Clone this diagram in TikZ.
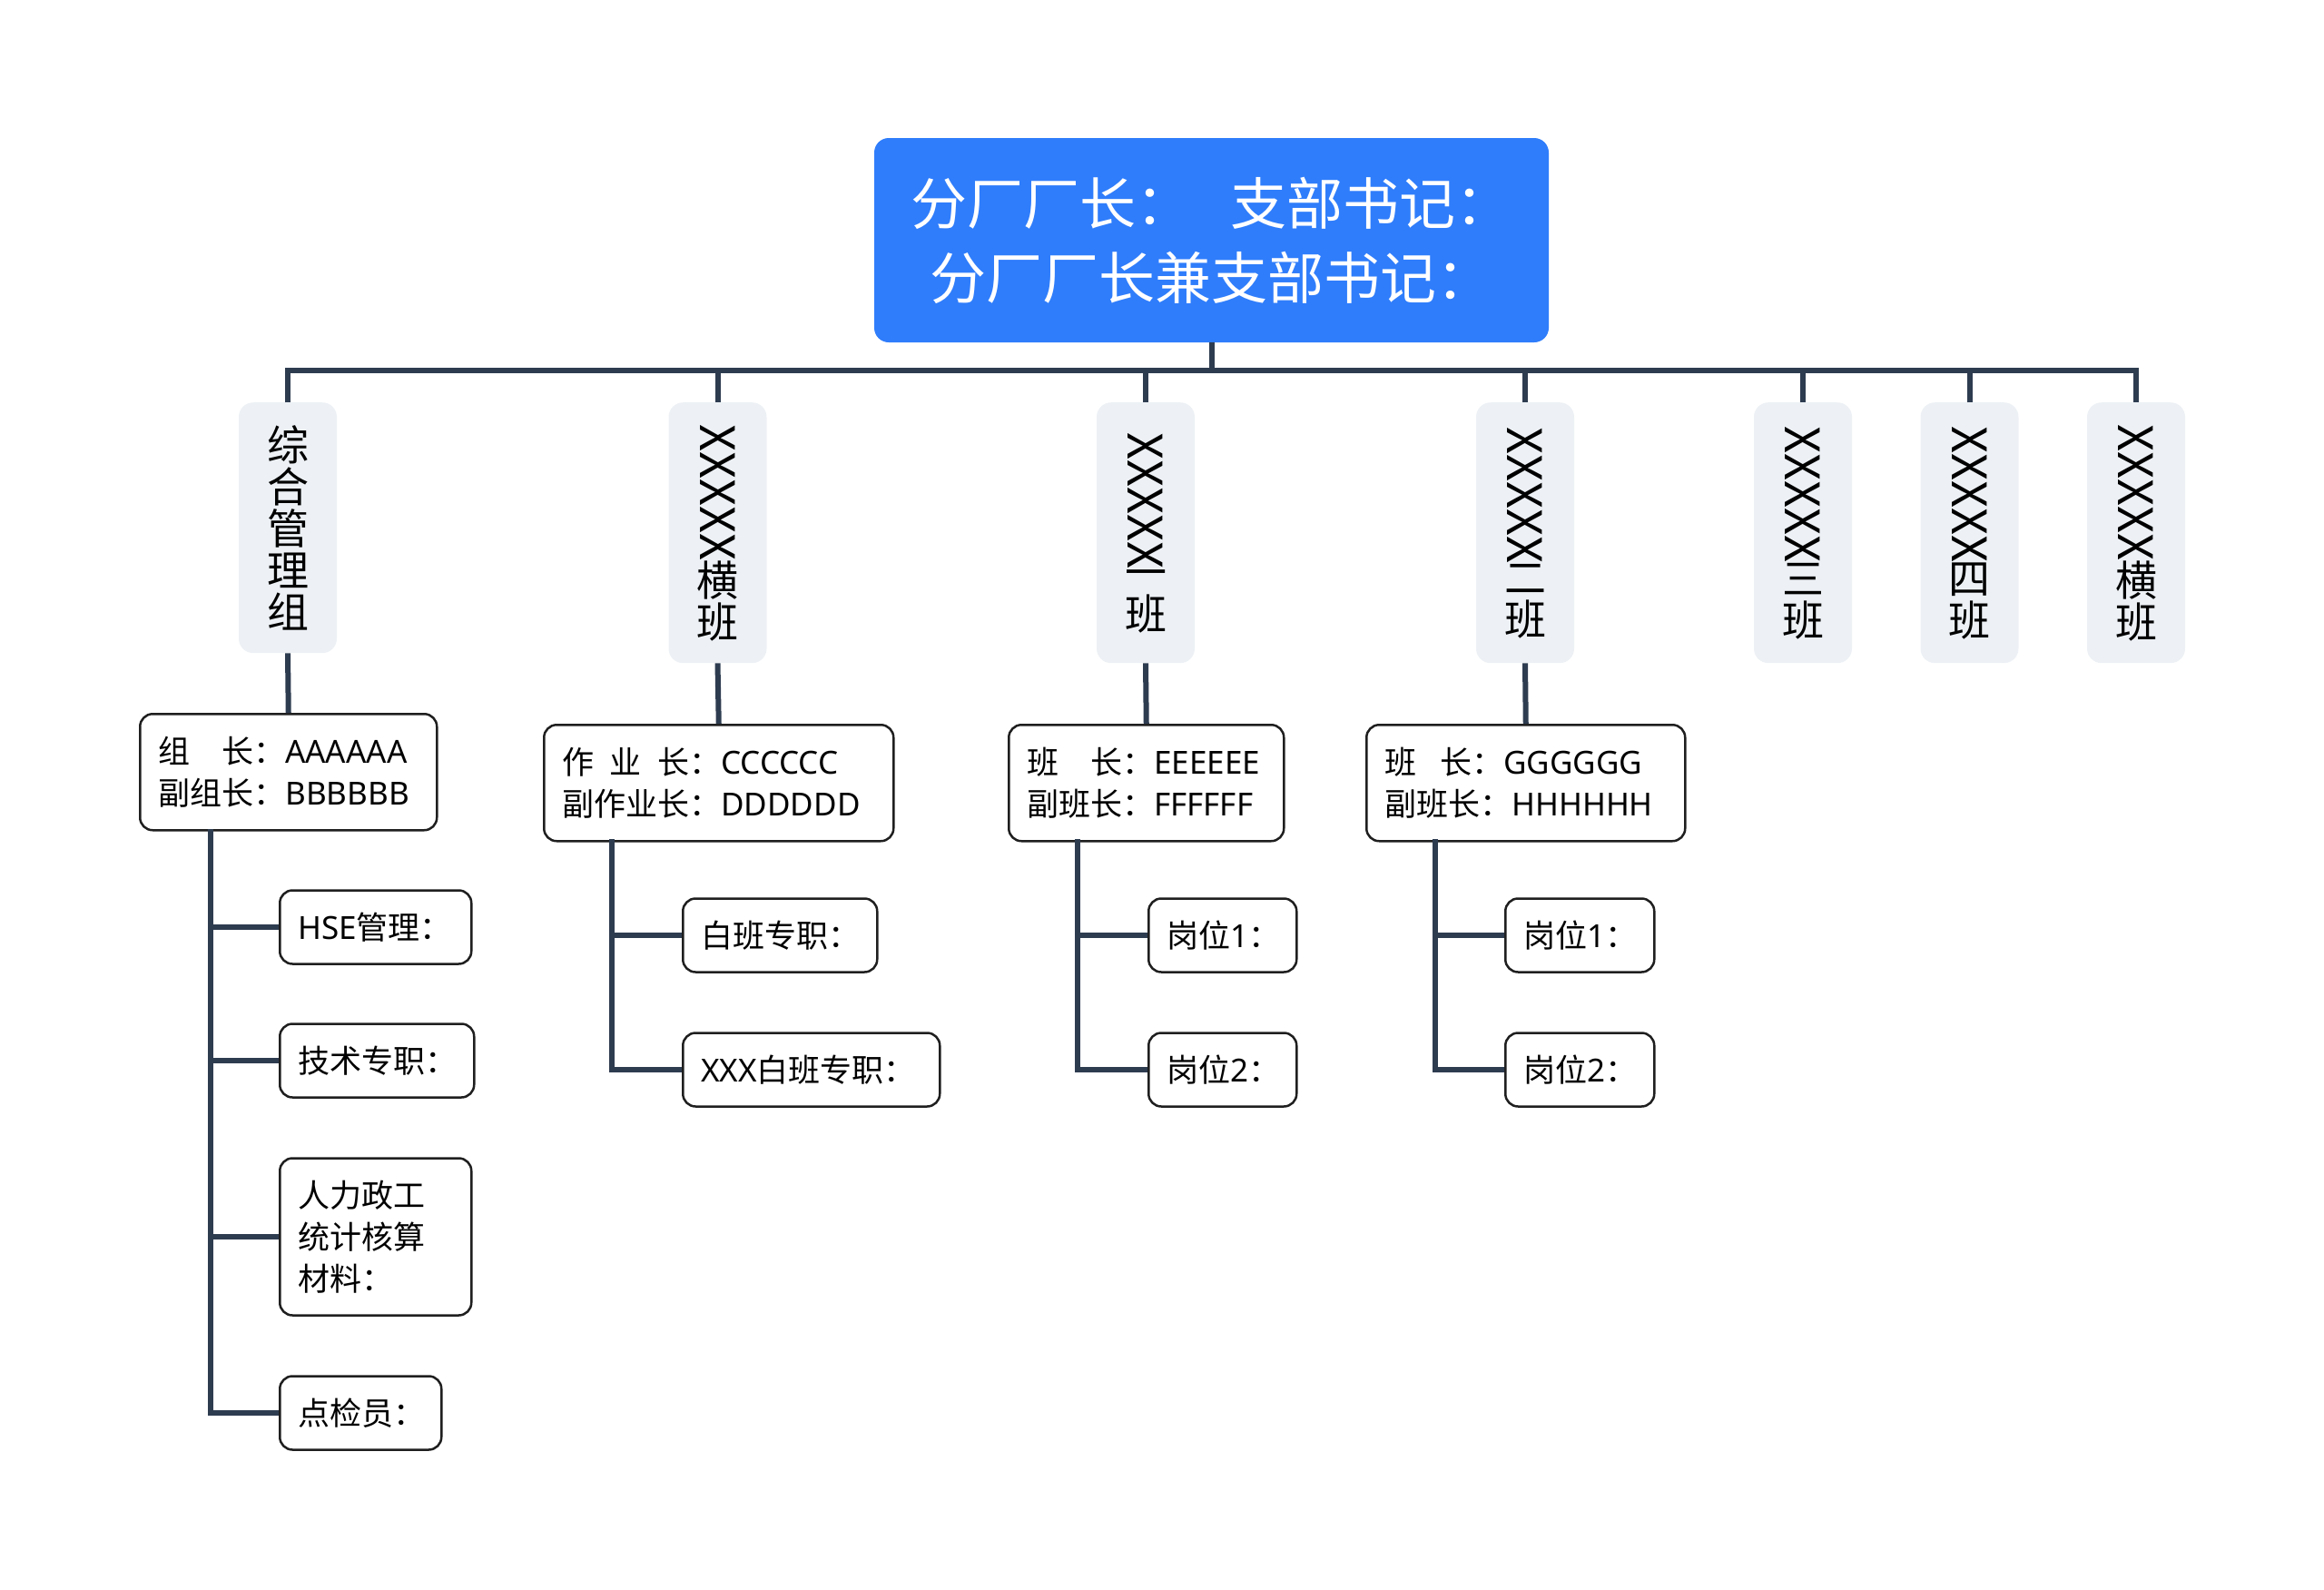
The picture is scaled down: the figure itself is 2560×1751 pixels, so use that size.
\documentclass[tikz,border=0pt]{standalone}
\usepackage{fontspec}
\setmainfont{Noto Sans CJK SC}
\newfontfamily\latin{Noto Sans}
\definecolor{rootblue}{HTML}{2F7DFB}
\definecolor{conncol}{HTML}{2E3C50}
\definecolor{grpfill}{HTML}{EDF1F5}
\definecolor{boxline}{HTML}{1F1F1F}
\newcommand\rootfont{\fontsize{62}{82}\selectfont}
\newcommand\lonefont{\fontsize{46}{46}\selectfont}
\newcommand\ltwofont{\fontsize{35}{46}\selectfont}
\newcommand\xcol{\rotatebox{-90}{\resizebox{150pt}{!}{XXXXX}}}
\newcommand\lt[1]{{\latin #1}}
\begin{document}
\begin{tikzpicture}[x=1pt,y=-1pt,
  rootbox/.style={fill=rootblue,text=white,rounded corners=16pt,minimum width=743pt,minimum height=225pt,align=center,font=\rootfont,inner sep=0pt},
  grp/.style={fill=grpfill,rounded corners=16pt,minimum width=108pt,minimum height=287pt,align=center,font=\lonefont,inner sep=0pt,anchor=north},
  ltwo/.style={draw=boxline,line width=2.5pt,fill=white,rounded corners=14pt,inner xsep=20pt,align=left,font=\ltwofont,anchor=north west,minimum height=128pt},
  lthree/.style={draw=boxline,line width=2.5pt,fill=white,rounded corners=14pt,inner xsep=20pt,align=left,font=\ltwofont,anchor=west,minimum height=81pt},
  conn/.style={draw=conncol,line width=6pt,line join=miter}]
\useasboundingbox (0,0) rectangle (2560,1751);
\fill[white] (0,0) rectangle (2560,1751);

% root
\node[rootbox] (root) at (1334.5,264.5) {分厂厂长：\hspace{0.67em}支部书记：\\分厂厂长兼支部书记：};

% level 1
\node[grp,minimum height=276pt] (g1) at (317,443) {综\\合\\管\\理\\组};
\node[grp] (g2) at (790.5,443) {\xcol\\横\\班};
\node[grp] (g3) at (1262,443) {\xcol\\一\\班};
\node[grp] (g4) at (1680,443) {\xcol\\二\\班};
\node[grp] (g5) at (1986,443) {\xcol\\三\\班};
\node[grp] (g6) at (2169.5,443) {\xcol\\四\\班};
\node[grp] (g7) at (2353,443) {\xcol\\横\\班};

% level 2
\node[ltwo,text width=287pt] (b1) at (153,785) {组\hspace{1em}长：\lt{AAAAAA}\\副组长：\lt{BBBBBB}};
\node[ltwo,text width=345pt] (b2) at (598,797) {作\hspace{0.5em}业\hspace{0.5em}长：\lt{CCCCCC}\\副作业长：\lt{DDDDDD}};
\node[ltwo,text width=263pt] (b3) at (1110,797) {班\hspace{1em}长：\lt{EEEEEE}\\副班长：\lt{FFFFFF}};
\node[ltwo,text width=311pt] (b4) at (1504,797) {班\hspace{0.75em}长：\lt{GGGGGG}\\副班长：\lt{HHHHHH}};

% level 3
\node[lthree,text width=171pt] (c11) at (307,1021) {\lt{HSE}管理：};
\node[lthree,text width=174pt] (c12) at (307,1168) {技术专职：};
\node[lthree,text width=171pt,minimum height=173pt] (c13) at (307,1362) {人力政工\\统计核算\\材料：};
\node[lthree,text width=138pt] (c14) at (307,1556) {点检员：};
\node[lthree,text width=174pt] (c21) at (751,1030) {白班专职：};
\node[lthree,text width=243pt] (c22) at (751,1178) {\lt{XXX}白班专职：};
\node[lthree,text width=123pt] (c31) at (1264,1030) {岗位\lt{1}：};
\node[lthree,text width=123pt] (c32) at (1264,1178) {岗位\lt{2}：};
\node[lthree,text width=124pt] (c41) at (1657,1030) {岗位\lt{1}：};
\node[lthree,text width=124pt] (c42) at (1657,1178) {岗位\lt{2}：};

% bus
\coordinate (bus) at (0,408);
\draw[conn] (g1.north) -- (g1.north |- bus) -- (g7.north |- bus) -- (g7.north);
\draw[conn] (root.south) -- (root.south |- bus);
\foreach \g in {g2,g3,g4,g5,g6}{\draw[conn] (\g.north) -- (\g.north |- bus);}

% level1 -> level2
\draw[conn] (g1.south) -- (b1.north);
\draw[conn] (g2.south) -- (b2.north);
\draw[conn] (g3.south) -- (b3.north);
\draw[conn] (g4.south) -- (b4.north);

% spines
\coordinate (s1) at (232,913);
\coordinate (s2) at (674,924);
\coordinate (s3) at (1187,924);
\coordinate (s4) at (1581,924);
\draw[conn] (s1) |- (c14.west);
\draw[conn] (s1 |- c11.west) -- (c11.west);
\draw[conn] (s1 |- c12.west) -- (c12.west);
\draw[conn] (s1 |- c13.west) -- (c13.west);
\draw[conn] (s2) |- (c22.west);
\draw[conn] (s2 |- c21.west) -- (c21.west);
\draw[conn] (s3) |- (c32.west);
\draw[conn] (s3 |- c31.west) -- (c31.west);
\draw[conn] (s4) |- (c42.west);
\draw[conn] (s4 |- c41.west) -- (c41.west);
\end{tikzpicture}
\end{document}
